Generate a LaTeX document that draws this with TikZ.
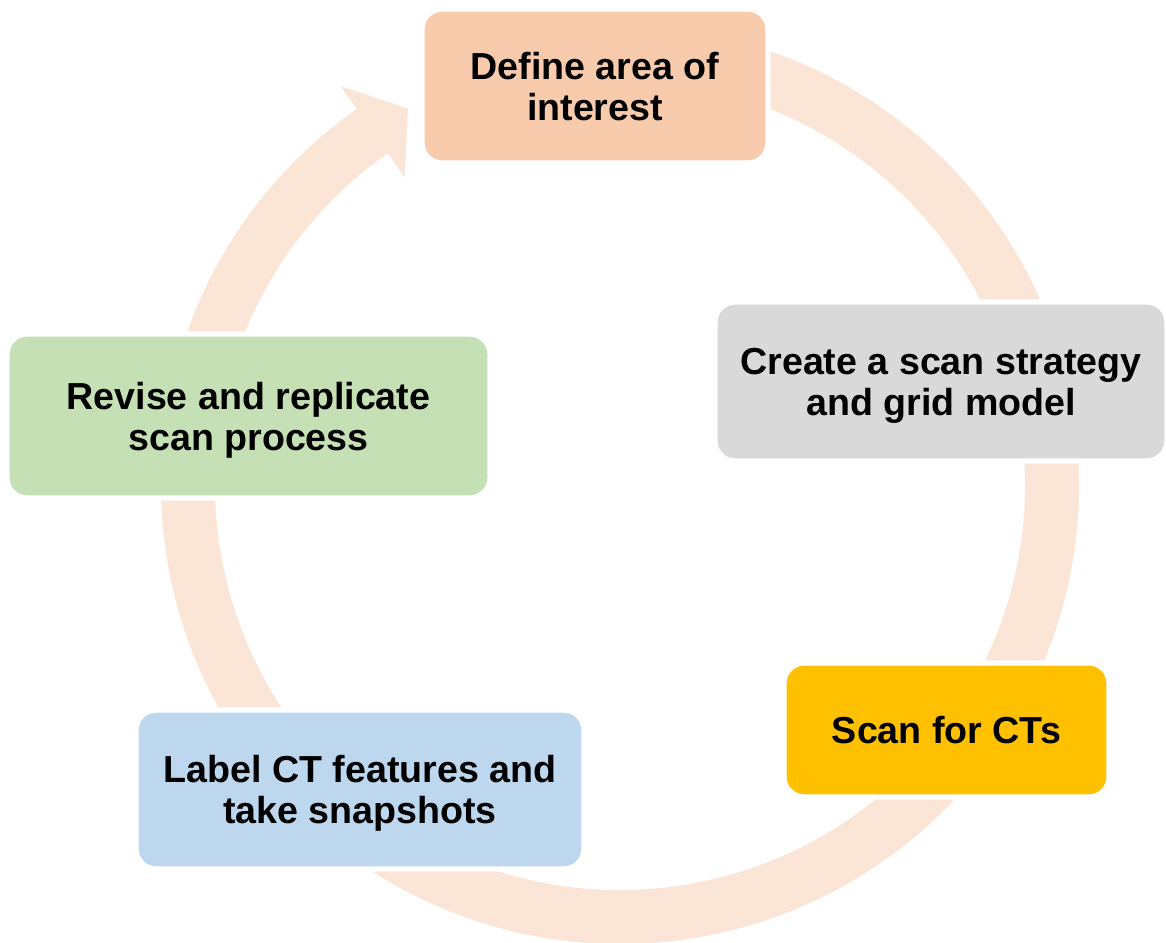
\documentclass[tikz,border=0pt]{standalone}
\usepackage{fontspec}
\setmainfont{Liberation Sans}
\usepackage{xcolor}
\usetikzlibrary{positioning}

\definecolor{ringpeach}{HTML}{FBE5D6}
\definecolor{stepPeach}{HTML}{F8CBAD}
\definecolor{stepGray}{HTML}{D9D9D9}
\definecolor{stepGold}{HTML}{FFC000}
\definecolor{stepBlue}{HTML}{BDD7EE}
\definecolor{stepGreen}{HTML}{C5E0B4}

\tikzset{
  stage/.style={rectangle, rounded corners=0.4cm, draw=white, line width=3pt,
    inner sep=0pt, align=center, text depth=0pt,
    font=\fontsize{21.4}{23.3}\selectfont\bfseries},
}

\begin{document}
\begin{tikzpicture}
    \def\rmid{8.64} % Radius of the middle of the ring
    \def\rwidth{1.08} % Width of the ring

    \useasboundingbox (0,0) rectangle (23.32,18.84);
    \coordinate (c) at (12.4,9.14);

    % The ring, running clockwise into its arrowhead
    \draw[ringpeach, line width=\rwidth cm] ([shift={(100:\rmid)}]c) arc (100:-236:\rmid);
    \fill[ringpeach, shift={(c)}] (125:7.51) -- (119.4:\rmid) -- (125:9.74) -- cycle;

    % Stages of the cycle
    \node[stage, fill=stepPeach, minimum width=6.92cm, minimum height=3.08cm]
      (define) at (11.90,17.12) {Define area of\\interest};
    \node[stage, fill=stepGray, minimum width=9.04cm, minimum height=3.18cm]
      (strategy) at (18.82,11.21) {Create a scan strategy\\and grid model};
    \node[stage, fill=stepGold, minimum width=6.50cm, minimum height=2.68cm]
      (scan) at (18.93,4.24) {Scan for CTs};
    \node[stage, fill=stepBlue, minimum width=8.96cm, minimum height=3.18cm]
      (label) at (7.20,3.05) {Label CT features and\\take snapshots};
    \node[stage, fill=stepGreen, minimum width=9.66cm, minimum height=3.28cm]
      (revise) at (4.97,10.52) {Revise and replicate\\scan process};
  \end{tikzpicture}
\end{document}
